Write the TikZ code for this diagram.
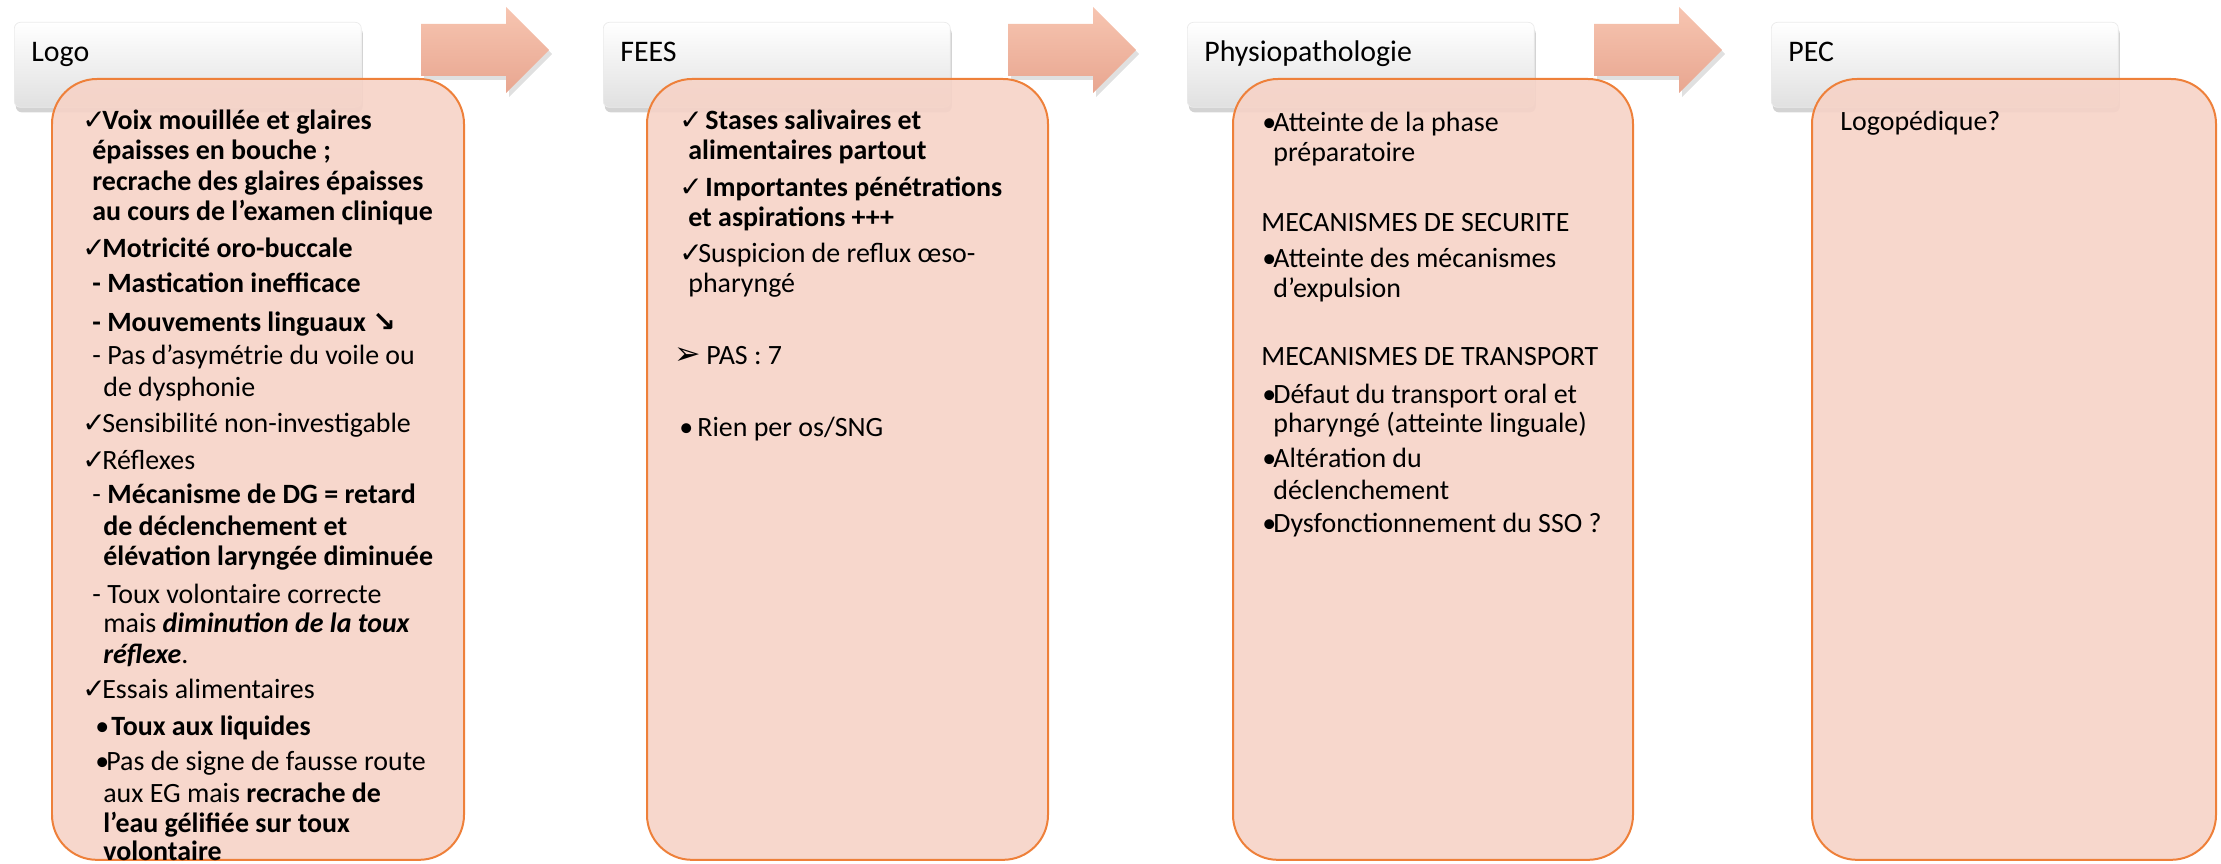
\documentclass[tikz,border=0pt]{standalone}
\usepackage{fontspec}
\setmainfont{Carlito}
\newfontfamily\symfont{DejaVu Sans}
\usetikzlibrary{shadows}

\definecolor{pinkfill}{RGB}{246,211,199}
\definecolor{pinkline}{RGB}{238,128,58}
\definecolor{arrowlight}{RGB}{247,197,177}
\definecolor{arrowdark}{RGB}{232,166,144}

\newlength{\pu}\setlength{\pu}{0.02cm}
\newcommand{\bodysize}{\fontsize{15.9}{17}\selectfont}
\newcommand{\headsize}{\fontsize{17}{18}\selectfont}
% symbol hanging left of the text start, #1 = gap in px
\newcommand{\mk}[2]{\llap{\makebox[#1\pu][l]{#2}}}
\newcommand{\ckg}{{\symfont ✓}}
\newcommand{\sarr}{{\symfont\bfseries ↘}}
\newcommand{\tdarr}{{\symfont\fontsize{18}{18}\selectfont ➢}}

\tikzset{
  headbox/.style={anchor=north west,minimum width=6.94cm,minimum height=1.7cm,
    rounded corners=0.12cm,draw=black!8,top color=white,middle color=white,bottom color=black!12,
    drop shadow={shadow xshift=0.03cm,shadow yshift=-0.1cm,opacity=0.35}},
  pinkbox/.style={anchor=north west,minimum height=15.62cm,rounded corners=0.9cm,
    draw=pinkline,line width=0.04cm,fill=pinkfill,fill opacity=0.9},
  txt/.style={anchor=base west,inner sep=0,font=\bodysize},
  headtxt/.style={anchor=base west,inner sep=0,font=\headsize}
}

\begin{document}
\begin{tikzpicture}[x=0.02cm,y=-0.02cm]
\useasboundingbox(0,0)rectangle(2221,864);
% header tabs
\foreach \i/\x in {1/14,2/603,3/1187,4/1771}
  \node[headbox](hd\i)at(\x,22){};
\foreach \i/\x/\t in {1/31/Logo,2/620/FEES,3/1204/Physiopathologie,4/1788/PEC}
  \node[headtxt](ht\i)at(\x,62){\t};
% block arrows
\foreach \ax in {421,1008,1594}{
  \fill[black,opacity=0.12](\ax+3,28)--++(85,0)--++(0,-17)--++(43,43)--++(-43,43)--++(0,-17)--++(-85,0)--cycle;
  \shade[top color=arrowlight,bottom color=arrowdark](\ax,24)--++(85,0)--++(0,-17)--++(43,43)--++(-43,43)--++(0,-17)--++(-85,0)--cycle;
}
% content panels
\foreach \i/\x/\w in {1/51/412,2/646/401,3/1232/400,4/1811/404}
  \node[pinkbox,minimum width=\w*0.02cm](pk\i)at(\x,78){};
% Logo
\foreach \x/\y/\t [count=\n] in {
  102/130/{\mk{20}{\ckg}\textbf{Voix mouillée et glaires}},
  92/160/{\textbf{épaisses en bouche ;}},
  92/191/{\textbf{recrache des glaires épaisses}},
  92/221/{\textbf{au cours de l’examen clinique}},
  102/258/{\mk{20}{\ckg}\textbf{Motricité oro-buccale}},
  107/293/{\mk{15}{\textbf{-}}\textbf{Mastication inefficace}},
  107/332/{\mk{15}{\textbf{-}}\textbf{Mouvements linguaux} \sarr},
  107/365/{\mk{15}{-}Pas d’asymétrie du voile ou},
  103/397/{de dysphonie},
  102/433/{\mk{20}{\ckg}Sensibilité non-investigable},
  102/470/{\mk{20}{\ckg}Réflexes},
  107/504/{\mk{15}{-}\textbf{Mécanisme de DG = retard}},
  103/536/{\textbf{de déclenchement et}},
  103/565/{\textbf{élévation laryngée diminuée}},
  107/603/{\mk{15}{-}Toux volontaire correcte},
  103/632/{mais \textbf{\textit{diminution de la toux}}},
  103/663/{\textbf{\textit{réflexe}}.},
  102/698/{\mk{20}{\ckg}Essais alimentaires},
  111/735/{\mk{16}{•}\textbf{Toux aux liquides}},
  106/770/{\mk{11}{•}Pas de signe de fausse route},
  103/802/{aux EG mais \textbf{recrache de}},
  103/832/{\textbf{l’eau gélifiée sur toux}},
  103/860/{\textbf{volontaire}}}
  \node[txt](lg\n)at(\x,\y){\t};
% FEES
\foreach \x/\y/\t [count=\n] in {
  705/130/{\mk{26}{\ckg}\textbf{Stases salivaires et}},
  688/160/{\textbf{alimentaires partout}},
  705/197/{\mk{26}{\ckg}\textbf{Importantes pénétrations}},
  688/227/{\textbf{et aspirations +++}},
  698/263/{\mk{19}{\ckg}Suspicion de reflux œso-},
  688/293/{pharyngé},
  706/365/{\mk{32}{\tdarr}PAS : 7},
  697/437/{\mk{18}{•}Rien per os/SNG}}
  \node[txt](fe\n)at(\x,\y){\t};
% Physiopathologie
\foreach \x/\y/\t [count=\n] in {
  1273/132/{\mk{11}{•}Atteinte de la phase},
  1273/162/{préparatoire},
  1261/232/{MECANISMES DE SECURITE},
  1273/268/{\mk{11}{•}Atteinte des mécanismes},
  1273/298/{d’expulsion},
  1261/366/{MECANISMES DE TRANSPORT},
  1273/404/{\mk{11}{•}Défaut du transport oral et},
  1273/433/{pharyngé (atteinte linguale)},
  1273/468/{\mk{11}{•}Altération du},
  1273/500/{déclenchement},
  1273/533/{\mk{11}{•}Dysfonctionnement du SSO ?}}
  \node[txt](ph\n)at(\x,\y){\t};
% PEC
\node[txt](pc1)at(1840,131){Logopédique?};
\end{tikzpicture}
\end{document}
